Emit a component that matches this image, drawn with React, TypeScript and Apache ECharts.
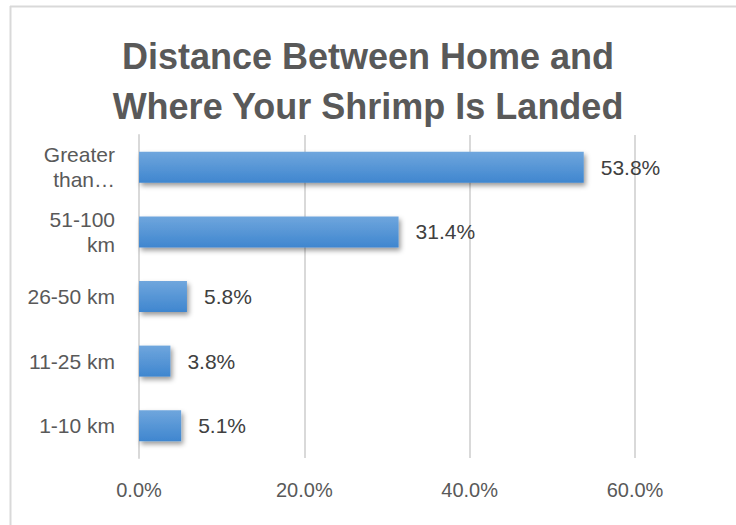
import React, { useEffect, useRef } from "react";
import * as echarts from "echarts";

const categories = ["Greater\nthan…", "51-100\nkm", "26-50 km", "11-25 km", "1-10 km"];
const values = [53.8, 31.4, 5.8, 3.8, 5.1];
const titleLines = ["Distance Between Home and", "Where Your Shrimp Is Landed"];
const xTicks = { min: 0, max: 60, interval: 20 };

const FONT = "'Liberation Sans', Arial, sans-serif";

export default function App() {
  const ref = useRef<HTMLDivElement>(null);
  useEffect(() => {
    if (!ref.current) return;
    const chart = echarts.init(ref.current, undefined, { renderer: "svg" });
    chart.setOption({
      animation: false,
      backgroundColor: "#ffffff",
      textStyle: { fontFamily: FONT },
      title: {
        text: titleLines.join("\n"),
        left: "center",
        top: 26,
        textStyle: {
          fontFamily: FONT,
          fontSize: 36,
          fontWeight: "bold",
          color: "#595959",
          lineHeight: 50,
        },
      },
      graphic: [
        { type: "line", shape: { x1: 10, y1: 6.5, x2: 736, y2: 6.5 }, style: { stroke: "#d9d9d9", lineWidth: 2 } },
        { type: "line", shape: { x1: 10.5, y1: 6, x2: 10.5, y2: 525 }, style: { stroke: "#d9d9d9", lineWidth: 2 } },
      ],
      grid: { left: 139, right: 101, top: 135, bottom: 67, containLabel: false },
      xAxis: {
        type: "value",
        min: xTicks.min,
        max: xTicks.max,
        interval: xTicks.interval,
        axisLine: { show: false },
        axisTick: { show: false },
        splitLine: { show: true, lineStyle: { color: "#d9d9d9", width: 2 } },
        axisLabel: {
          formatter: (v: number) => v.toFixed(1) + "%",
          color: "#595959",
          fontSize: 20,
          fontFamily: FONT,
          margin: 22,
        },
      },
      yAxis: {
        type: "category",
        data: categories,
        inverse: true,
        axisLine: { show: true, lineStyle: { color: "#d9d9d9", width: 2 } },
        axisTick: { show: false },
        axisLabel: {
          color: "#595959",
          fontSize: 21,
          fontFamily: FONT,
          margin: 24,
          lineHeight: 25,
          align: "right",
        },
      },
      series: [
        {
          type: "bar",
          data: values,
          barWidth: 31,
          itemStyle: {
            color: new echarts.graphic.LinearGradient(0, 0, 0, 1, [
              { offset: 0, color: "#6fa6dd" },
              { offset: 1, color: "#3f86cf" },
            ]),
            shadowColor: "rgba(0,0,0,0.4)",
            shadowBlur: 5,
            shadowOffsetX: 2,
            shadowOffsetY: 3,
          },
          label: {
            show: true,
            position: "right",
            distance: 17,
            formatter: (p: any) => p.value.toFixed(1) + "%",
            color: "#404040",
            fontSize: 21,
            fontFamily: FONT,
          },
        },
      ],
    });
    return () => chart.dispose();
  }, []);
  return (
    <div
      ref={ref}
      style={{ position: "fixed", left: 0, top: 0, width: 736, height: 525 }}
    />
  );
}
